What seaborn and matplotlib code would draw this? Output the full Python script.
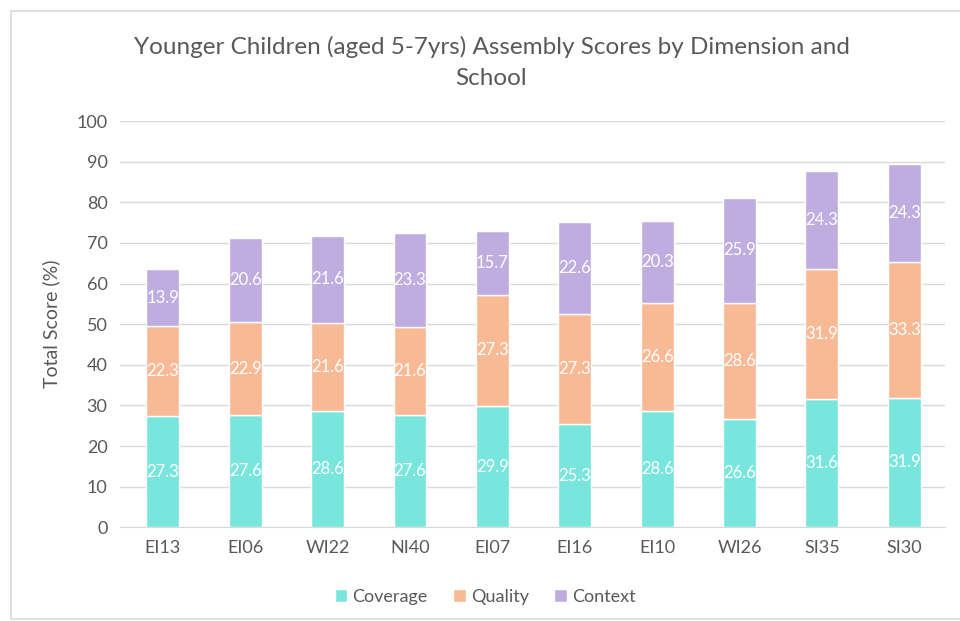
import numpy as np
import pandas as pd
import matplotlib.pyplot as plt
import seaborn as sns
from matplotlib.patches import Rectangle

# datos
schools = ["EI13", "EI06", "WI22", "NI40", "EI07", "EI16", "EI10", "WI26", "SI35", "SI30"]
coverage = [27.3, 27.6, 28.6, 27.6, 29.9, 25.3, 28.6, 26.6, 31.6, 31.9]
quality = [22.3, 22.9, 21.6, 21.6, 27.3, 27.3, 26.6, 28.6, 31.9, 33.3]
context = [13.9, 20.6, 21.6, 23.3, 15.7, 22.6, 20.3, 25.9, 24.3, 24.3]

colors = {"Coverage": "#79e6de", "Quality": "#f8b995", "Context": "#bfade0"}
txt = "#595959"

sns.set_style("white")
plt.rcParams['font.family'] = ['Lato', 'DejaVu Sans']

df = pd.DataFrame({"school": schools, "Coverage": coverage,
                   "Quality": quality, "Context": context})

fig = plt.figure(figsize=(9.6, 6.21), dpi=100)
ax = fig.add_axes([0.125, 0.151, 0.859, 0.654])

bottom = np.zeros(len(df))
for serie in ["Coverage", "Quality", "Context"]:
    sns.barplot(data=df, x="school", y=serie, bottom=bottom, color=colors[serie],
                width=0.4, ax=ax, label=serie, saturation=1, zorder=3)
    bottom = bottom + df[serie].values

for container in ax.containers:
    ax.bar_label(container, fmt='%.1f', label_type='center', color='white', fontsize=12)

ax.set_ylim(0, 100)
ax.set_xlim(-0.52, 9.49)
ax.set_yticks(range(0, 101, 10))
ax.yaxis.grid(True, color="#d9d9d9", linewidth=1, zorder=0)
for s in ["top", "right", "left"]:
    ax.spines[s].set_visible(False)
ax.spines["bottom"].set_color("#d9d9d9")
ax.tick_params(axis='both', length=0, labelsize=13, labelcolor=txt, pad=9)
ax.set_xlabel("")
ax.set_ylabel("Total Score (%)", fontsize=14, color=txt, labelpad=12)

fig.text(0.512, 0.900, "Younger Children (aged 5-7yrs) Assembly Scores by Dimension and\nSchool",
         ha='center', va='center', fontsize=17.5, color=txt, linespacing=1.6)

leg = ax.legend(loc='upper center', bbox_to_anchor=(0.443, -0.112), ncol=3, frameon=False,
                fontsize=13, handlelength=0.7, handleheight=0.7, handletextpad=0.3,
                columnspacing=1.4)
for t in leg.get_texts():
    t.set_color(txt)

# marco gris del gráfico
fig.patches.append(Rectangle((11 / 960, 0.003), 1.0, 1 - 11 / 621 - 0.003,
                             transform=fig.transFigure, fill=False,
                             edgecolor="#d9d9d9", linewidth=1.2))

fig.savefig("out.png", dpi=100)
